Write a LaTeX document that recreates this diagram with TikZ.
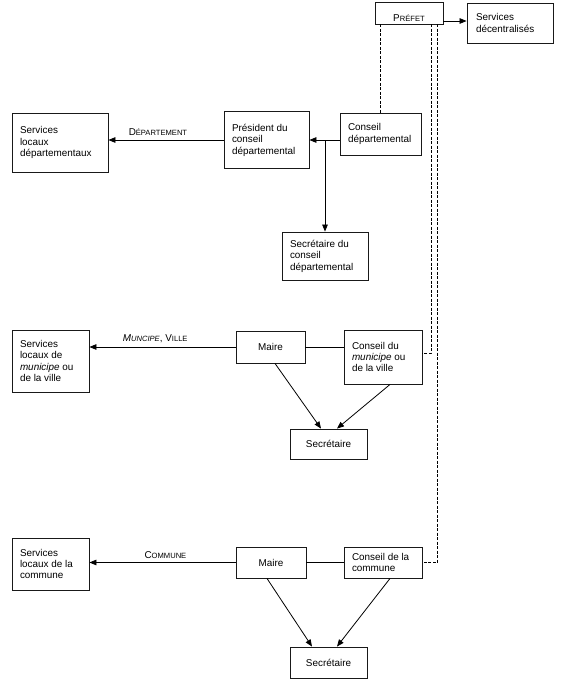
\documentclass[tikz,border=0pt]{standalone}
\usepackage{fontspec}
\setmainfont{Liberation Sans}
\usetikzlibrary{arrows.meta,calc}
\newcommand\smc[1]{{\fontsize{7.6}{8}\selectfont #1}}
\begin{document}
\begin{tikzpicture}[x=1pt,y=-1pt,
  box/.style={draw=black!90, line width=0.9pt, inner xsep=8pt, inner ysep=0pt, align=flush left, font=\fontsize{9.9}{11.4}\selectfont},
  cbox/.style={draw=black!90, line width=0.9pt, inner sep=0pt, align=center, font=\fontsize{9.9}{11.4}\selectfont},
  arr/.style={line width=0.8pt, -{Triangle[length=7pt,width=5.6pt]}},
  ln/.style={line width=0.8pt},
  dsh/.style={line width=0.8pt, dash pattern=on 3pt off 1.5pt},
  lbl/.style={font=\fontsize{9.9}{11}\selectfont, inner sep=1pt, above=3pt}
]
\useasboundingbox (0,0) rectangle (560,683);

% nodes
\node[cbox, minimum width=68pt, text height=19pt, text depth=3pt] (prefet) at (409,13) {P\smc{RÉFET}};
\node[box, text width=68pt, minimum height=40pt, inner xsep=9pt] (servdec) at (510,23) {Services\\décentralisés};

\node[box, text width=80pt, minimum height=59pt] (servdep) at (60,142.5) {Services\\locaux\\départementaux};
\node[box, text width=69pt, minimum height=57pt] (pres) at (266.5,140) {Président du\\conseil\\départemental};
\node[box, text width=65pt, minimum height=42pt] (consdep) at (380.5,134) {Conseil\\départemental};
\node[box, text width=70pt, minimum height=48pt] (secdep) at (325,256) {Secrétaire du\\conseil\\départemental};

\node[box, text width=61pt, minimum height=62pt] (servmun) at (50.5,361) {Services\\locaux de\\\textit{municipe} ou\\de la ville};
\node[cbox, minimum width=69pt, minimum height=32pt] (maire1) at (270.5,347) {Maire};
\node[box, text width=62pt, minimum height=54pt] (consmun) at (383,357) {Conseil du\\\textit{municipe} ou\\de la ville};
\node[cbox, minimum width=77pt, minimum height=30pt] (sec1) at (328.5,444) {Secrétaire};

\node[box, text width=61pt, minimum height=52pt] (servcom) at (50.5,564) {Services\\locaux de la\\commune};
\node[cbox, minimum width=70pt, minimum height=31pt] (maire2) at (271,562.5) {Maire};
\node[box, text width=62pt, minimum height=31pt] (conscom) at (383,562.5) {Conseil de la\\commune};
\node[cbox, minimum width=77pt, minimum height=31pt] (sec2) at (328.5,662.5) {Secrétaire};

\coordinate (t2) at (431,24);
\coordinate (t3) at (437,24);

% connectors
\draw[arr] ([yshift=-8pt]prefet.east) -- ([yshift=-8pt]prefet.east -| servdec.west);
\draw[dsh] (consdep.north |- prefet.south) -- (consdep.north);
\draw[dsh] (t2) |- ([yshift=4pt]consmun.east);
\draw[dsh] (t3) |- (conscom.east);

\draw[arr] (consdep.west |- pres.east) -- (pres.east);
\draw[arr] (pres.west) -- (pres.west -| servdep.east) node[lbl, pos=0.57] {D\smc{ÉPARTEMENT}};
\draw[arr] (secdep.north |- pres.east) -- (secdep.north);

\draw[arr] (maire1.west) -- (maire1.west -| servmun.east) node[lbl, pos=0.55] {\textit{M\smc{UNCIPE}}, V\smc{ILLE}};
\draw[ln] (maire1.east) -- (maire1.east -| consmun.west);
\draw[arr] ([xshift=4.5pt]maire1.south) -- ([xshift=-7.5pt]sec1.north);
\draw[arr] ([xshift=7pt]consmun.south) -- ([xshift=8.5pt]sec1.north);

\draw[arr] (maire2.west) -- (maire2.west -| servcom.east) node[lbl, pos=0.48] {C\smc{OMMUNE}};
\draw[ln] (maire2.east) -- (maire2.east -| conscom.west);
\draw[arr] ([xshift=-4pt]maire2.south) -- ([xshift=-16.5pt]sec2.north);
\draw[arr] ([xshift=7pt]conscom.south) -- ([xshift=8.5pt]sec2.north);
\end{tikzpicture}
\end{document}
